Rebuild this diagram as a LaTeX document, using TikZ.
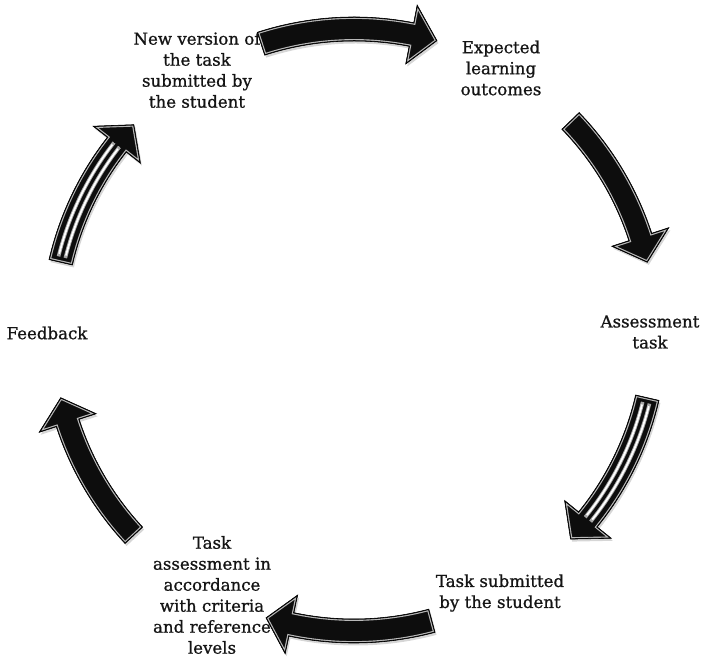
\documentclass[tikz,border=0pt]{standalone}
\usepackage{fontspec}
\setmainfont{DejaVu Serif}[FakeBold=0.9]

% Outline of one curved block arrow on the ring:
% #1 tail angle, #2 angle of the head base, #3 tip angle
\newcommand{\ringpath}[3]{(#1:313pt) arc[start angle=#1, end angle=#2, radius=313pt]
  -- (#2:331pt) -- (#3:301pt) -- (#2:271pt) -- (#2:289pt)
  arc[start angle=#2, end angle=#1, radius=289pt] -- cycle}

% Glossy black arrow with a soft shadow and a light bevel inside its outline
\newcommand{\ringarrow}[3]{%
  \fill[black, opacity=0.16, shift={(1.5,-2.5)}] \ringpath{#1}{#2}{#3};
  \begin{scope}
    \clip \ringpath{#1}{#2}{#3};
    \fill[black!95] \ringpath{#1}{#2}{#3};
    \draw[gray!55, line width=3.8pt] \ringpath{#1}{#2}{#3};
    \draw[black!95, line width=1.5pt] \ringpath{#1}{#2}{#3};
  \end{scope}
  \draw[black, line width=0.6pt, line join=miter] \ringpath{#1}{#2}{#3};
}

% Two white highlight stripes along the body of an arrow
\newcommand{\ringstripes}[2]{%
  \begin{scope}
    \clip \ringpath{#1}{#2}{#2};
    \foreach \rr in {297.5pt,304.5pt}{
      \draw[gray!70, line width=3.6pt] (#1-1:\rr) arc[start angle=#1-1, end angle=#2, radius=\rr];
      \draw[white, line width=1.8pt] (#1-1.5:\rr) arc[start angle=#1-1.5, end angle=#2+0.5, radius=\rr];
    }
  \end{scope}
}

\begin{document}
\begin{tikzpicture}[x=1pt, y=1pt,
  lbl/.style={align=center, font=\fontsize{16.6}{21}\selectfont, text=black!92, inner sep=0pt}]
\useasboundingbox (0,0) rectangle (708,658);

% labels around the cycle
\node[lbl] (exp)  at (501,590) {Expected\\learning\\outcomes};
\node[lbl] (asmt) at (650,326) {Assessment\\task};
\node[lbl] (sub)  at (500,65)  {Task submitted\\by the student};
\node[lbl] (crit) at (212,63)  {Task\\assessment in\\accordance\\with criteria\\and reference\\levels};
\node[lbl] (fb)   at (47,325)  {Feedback};
\node[lbl] (newv) at (197,588) {New version of\\the task\\submitted by\\the student};

% curved arrows between the labels, on a ring around the centre
\begin{scope}[shift={(354,328)}]
  \ringarrow{108}{79}{74}
  \ringarrow{44}{18}{13}
  \ringarrow{-13}{-39}{-44}
  \ringstripes{-13}{-39}
  \ringarrow{-75}{-102}{-107}
  \ringarrow{-137}{-162}{-167}
  \ringarrow{167}{142}{137}
  \ringstripes{167}{142}
\end{scope}
\end{tikzpicture}
\end{document}
